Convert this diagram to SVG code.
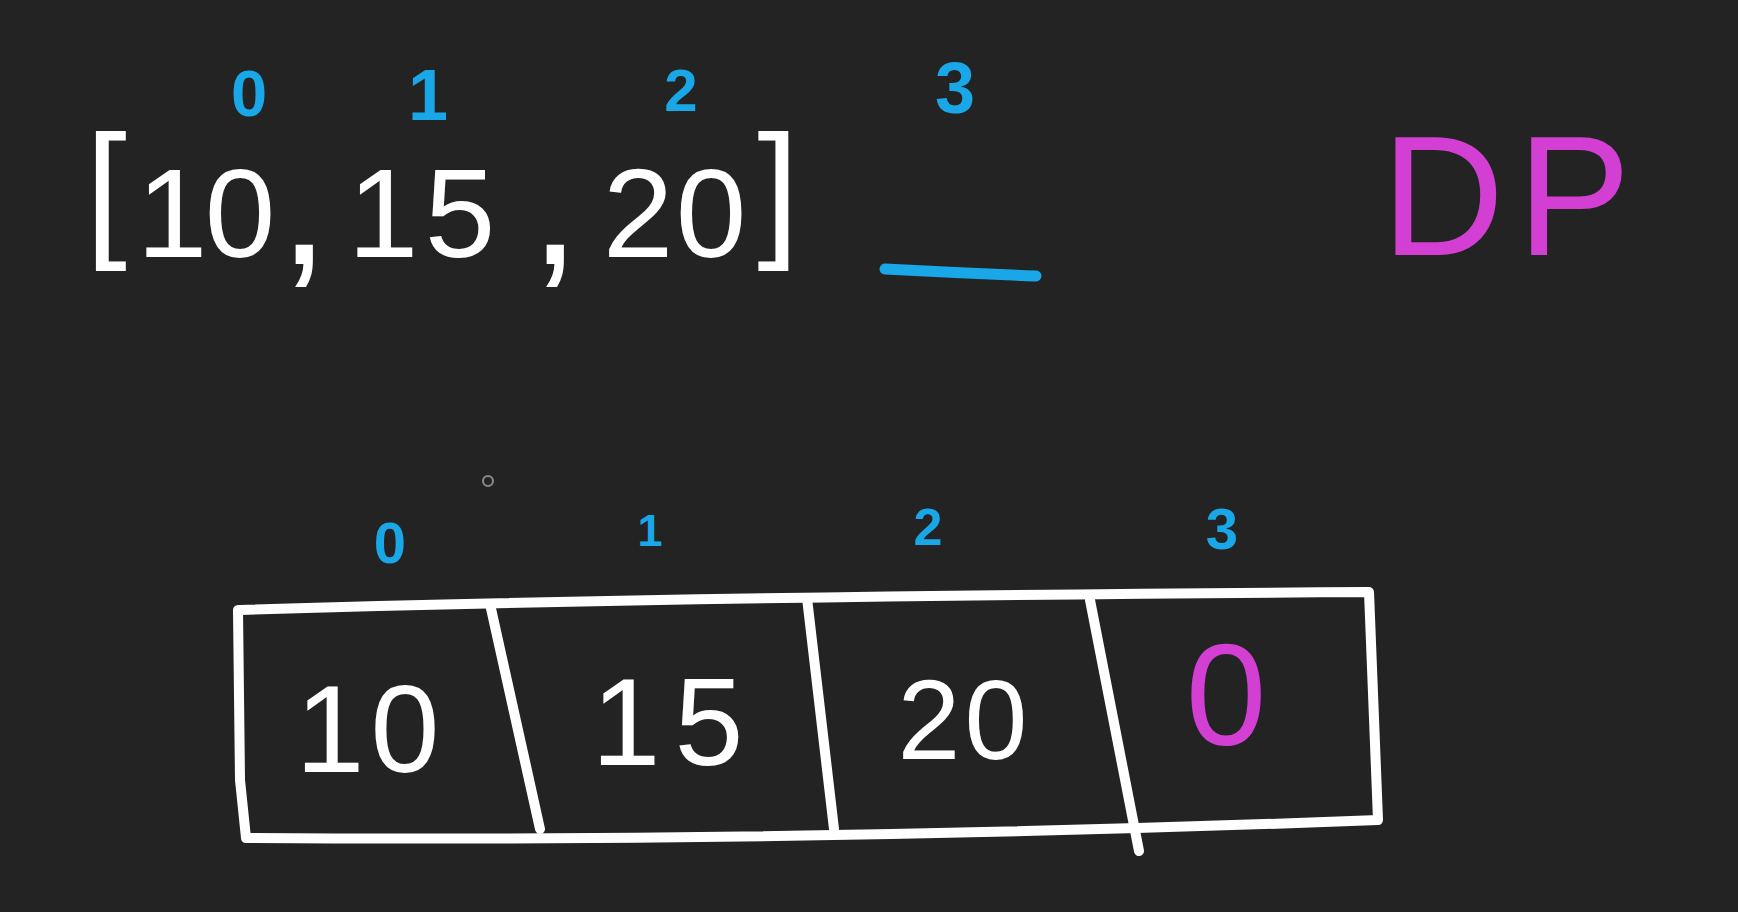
<svg xmlns="http://www.w3.org/2000/svg" width="1738" height="912" viewBox="0 0 1738 912">
<style>
.w{fill:#ffffff;font-family:"Liberation Sans",Arial,sans-serif;text-anchor:middle}
.b{fill:#1aa7e8;font-family:"Liberation Sans",Arial,sans-serif;font-weight:bold;text-anchor:middle}
.m{fill:#d23fd2;font-family:"Liberation Sans",Arial,sans-serif;text-anchor:middle}
.ln{fill:none;stroke:#ffffff;stroke-width:10;stroke-linecap:round;stroke-linejoin:round}
</style>
<rect width="1738" height="912" fill="#232323"/>
<g id="array">
<text class="w" font-size="150" x="106" y="240">[</text>
<text class="w" font-size="127" y="257"><tspan x="172">1</tspan><tspan x="240">0</tspan></text>
<text class="w" font-size="180" x="304" y="264">,</text>
<text class="w" font-size="127" y="257"><tspan x="383">1</tspan><tspan x="460">5</tspan></text>
<text class="w" font-size="180" x="555" y="264">,</text>
<text class="w" font-size="127" y="257"><tspan x="638">2</tspan><tspan x="711">0</tspan></text>
<text class="w" font-size="150" x="778" y="240">]</text>
</g>
<g id="top-indices">
<text class="b" font-size="65" x="249" y="116">0</text>
<text class="b" font-size="72" x="428" y="120">1</text>
<text class="b" font-size="60" x="681" y="111">2</text>
<text class="b" font-size="72" x="955" y="113">3</text>
</g>
<g id="slot">
<path d="M885 269 Q960 273 1036 276" fill="none" stroke="#1aa7e8" stroke-width="11" stroke-linecap="round"/>
</g>
<g id="dp-label">
<text class="m" font-size="170" y="255"><tspan x="1443">D</tspan><tspan x="1574">P</tspan></text>
</g>
<g id="cursor">
<circle cx="488" cy="481" r="5" fill="none" stroke="#8a8a8a" stroke-width="2"/>
</g>
<g id="bottom-indices">
<text class="b" font-size="58" x="390" y="563">0</text>
<text class="b" font-size="45" x="650" y="546">1</text>
<text class="b" font-size="52" x="928" y="545">2</text>
<text class="b" font-size="58" x="1222" y="549">3</text>
</g>
<g id="dp-table">
<path class="ln" d="M240 610 Q700 596 1369 592 L1378 820 Q800 842 246 838 L240 780 L238 610"/>
<path class="ln" d="M490 604 L540 829"/>
<path class="ln" d="M807 598 L834 829"/>
<path class="ln" d="M1090 600 L1139 851"/>
</g>
<g id="cell-0"><text class="w" font-size="124" y="772"><tspan x="330">1</tspan><tspan x="405">0</tspan></text></g>
<g id="cell-1"><text class="w" font-size="124" y="765"><tspan x="626">1</tspan><tspan x="709">5</tspan></text></g>
<g id="cell-2"><text class="w" font-size="113" y="759"><tspan x="929">2</tspan><tspan x="996">0</tspan></text></g>
<g id="cell-3"><text class="m" font-size="145" x="1226" y="745">0</text></g>
</svg>
